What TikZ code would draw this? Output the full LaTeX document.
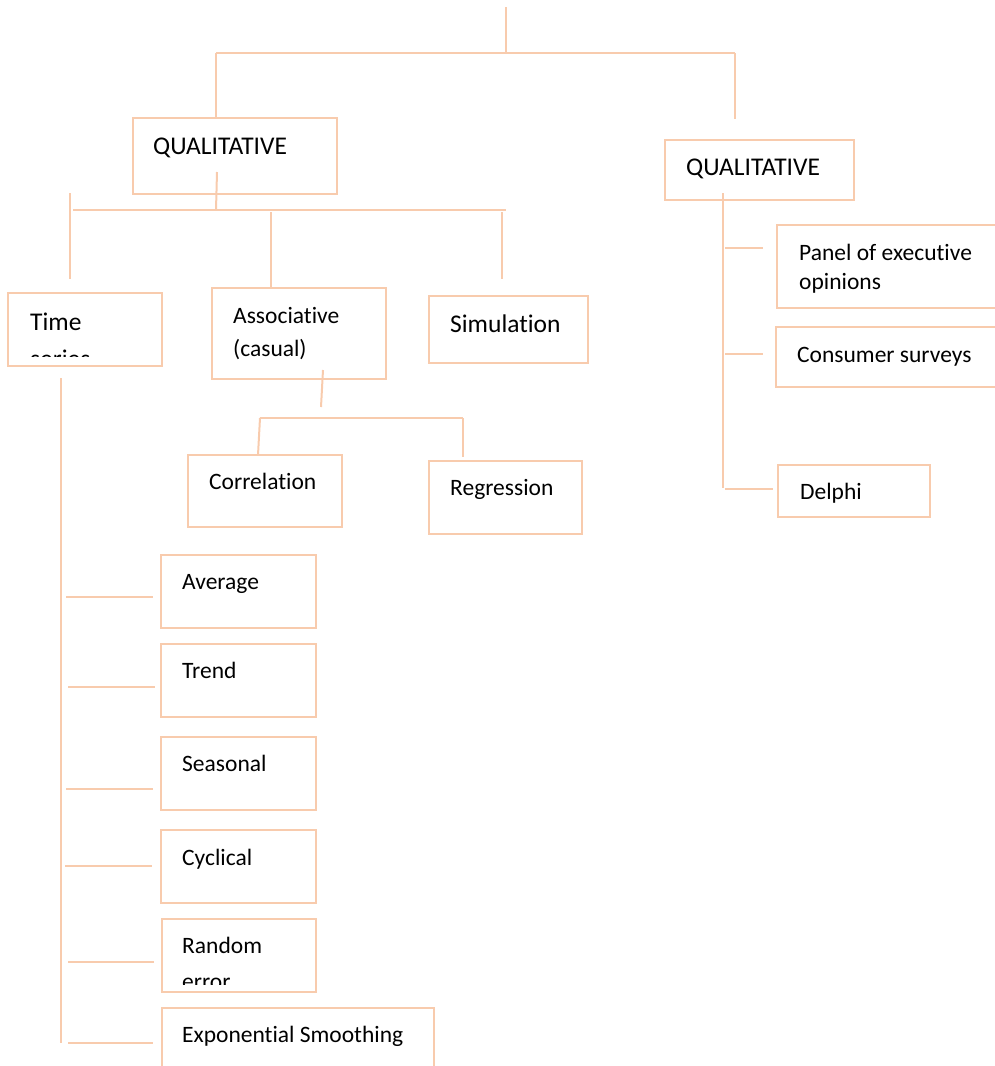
\documentclass[tikz,border=0pt]{standalone}
\usepackage{fontspec}
\setmainfont{Carlito}[Ligatures={NoCommon}]
\definecolor{peach}{HTML}{F8CBAD}
\begin{document}
\begin{tikzpicture}[x=1pt,y=-1pt,
  ln/.style={draw=peach,line width=2pt},
  box/.style={draw=peach,line width=2pt,inner sep=0pt,outer sep=0pt,anchor=north west},
  txt/.style={anchor=base west,inner sep=0pt,font=\fontsize{23.5}{30}\selectfont},
  big/.style={anchor=base west,inner sep=0pt,font=\fontsize{25.5}{33}\selectfont}]
\useasboundingbox (0,0) rectangle (995,1066);
\clip (0,0) rectangle (995,1066);
% boxes
\node[box,minimum width=204,minimum height=76] (q1) at (133,118) {};
\node[box,minimum width=154,minimum height=73] (ts) at (8,293) {};
\node[box,minimum width=174,minimum height=91] (as) at (212,288) {};
\node[box,minimum width=159,minimum height=67] (sim) at (429,296) {};
\node[box,minimum width=154,minimum height=72] (cor) at (188,455) {};
\node[box,minimum width=153,minimum height=73] (reg) at (429,461) {};
\node[box,minimum width=155,minimum height=73] (avg) at (161,555) {};
\node[box,minimum width=155,minimum height=73] (tre) at (161,644) {};
\node[box,minimum width=155,minimum height=73] (sea) at (161,737) {};
\node[box,minimum width=155,minimum height=73] (cyc) at (161,830) {};
\node[box,minimum width=154,minimum height=73] (ran) at (162,919) {};
\node[box,minimum width=272,minimum height=100] (exs) at (162,1008) {};
\node[box,minimum width=189,minimum height=60] (q2) at (665,140) {};
\node[box,minimum width=240,minimum height=83] (pan) at (777,225) {};
\node[box,minimum width=240,minimum height=60] (con) at (776,327) {};
\node[box,minimum width=152,minimum height=52] (del) at (778,465) {};
% texts
\node[big] (tq1) at (153,154) {QUALITATIVE};
\node[big] (tts) at (30,330) {Time};
\begin{scope}
\clip (8,293) rectangle (162,356.5);
\node[big] (tts2) at (30,367.5) {series};
\end{scope}
\node[txt] (tas1) at (233,323) {Associative};
\node[txt] (tas2) at (233,356) {(casual)};
\node[big] (tsim) at (450,332) {Simulation};
\node[txt] (tcor) at (209,489) {Correlation};
\node[txt] (treg) at (450,495) {Regression};
\node[txt] (tavg) at (182,589) {Average};
\node[txt] (ttre) at (182,678) {Trend};
\node[txt] (tsea) at (182,771) {Seasonal};
\node[txt] (tcyc) at (182,865) {Cyclical};
\node[txt] (tran) at (182,953) {Random};
\begin{scope}
\clip (162,919) rectangle (316,984);
\node[txt] (tran2) at (182,989) {error};
\end{scope}
\node[txt] (texs) at (182,1042) {Exponential Smoothing};
\node[big] (tq2) at (686,175) {QUALITATIVE};
\node[txt] (tpan1) at (799,260) {Panel of executive};
\node[txt] (tpan2) at (799,289) {opinions};
\node[txt] (tcon) at (797,362) {Consumer surveys};
\node[txt] (tdel) at (800,499) {Delphi};
% connector points
\coordinate (top0) at (506,7);
\coordinate (top1) at (506,53);
\coordinate (hl) at (216,53);
\coordinate (hr) at (735,53);
\coordinate (hr2) at (735,119);
\coordinate (q1a) at (217,172);
\coordinate (q1b) at (216,210);
\coordinate (h2l) at (73,210);
\coordinate (h2r) at (506,210);
\coordinate (v1a) at (70,193);
\coordinate (v1b) at (70,279);
\coordinate (v2a) at (271,212);
\coordinate (v3a) at (502,212);
\coordinate (v3b) at (502,279);
\coordinate (asa) at (323,370);
\coordinate (asb) at (321,407);
\coordinate (h3l) at (260,418);
\coordinate (h3r) at (463,418);
\coordinate (h3rb) at (463,457);
\coordinate (lva) at (61,378);
\coordinate (lvb) at (61,1043);
\coordinate (a1) at (66,597);  \coordinate (a2) at (153,597);
\coordinate (b1) at (68,687);  \coordinate (b2) at (155,687);
\coordinate (c1) at (66,789);  \coordinate (c2) at (153,789);
\coordinate (d1) at (65,866);  \coordinate (d2) at (152,866);
\coordinate (e1) at (68,962);  \coordinate (e2) at (154,962);
\coordinate (f1) at (68,1043); \coordinate (f2) at (153,1043);
\coordinate (rva) at (723,193);
\coordinate (rvb) at (723,488);
\coordinate (p1) at (725,248); \coordinate (p2) at (763,248);
\coordinate (k1) at (725,354); \coordinate (k2) at (763,354);
\coordinate (g1) at (725,489); \coordinate (g2) at (773,489);
% connectors
\draw[ln] (top0) -- (top1);
\draw[ln] (hl) -- (hr);
\draw[ln] (hl) -- (q1.north -| hl);
\draw[ln] (hr) -- (hr2);
\draw[ln] (q1a) -- (q1b);
\draw[ln] (h2l) -- (h2r);
\draw[ln] (v1a) -- (v1b);
\draw[ln] (v2a) -- (as.north -| v2a);
\draw[ln] (v3a) -- (v3b);
\draw[ln] (asa) -- (asb);
\draw[ln] (h3l) -- (h3r);
\draw[ln] (h3l) -- ([xshift=-2pt]cor.north -| h3l);
\draw[ln] (h3r) -- (h3rb);
\draw[ln] (lva) -- (lvb);
\draw[ln] (a1) -- (a2);
\draw[ln] (b1) -- (b2);
\draw[ln] (c1) -- (c2);
\draw[ln] (d1) -- (d2);
\draw[ln] (e1) -- (e2);
\draw[ln] (f1) -- (f2);
\draw[ln] (rva) -- (rvb);
\draw[ln] (p1) -- (p2);
\draw[ln] (k1) -- (k2);
\draw[ln] (g1) -- (g2);
\end{tikzpicture}
\end{document}
